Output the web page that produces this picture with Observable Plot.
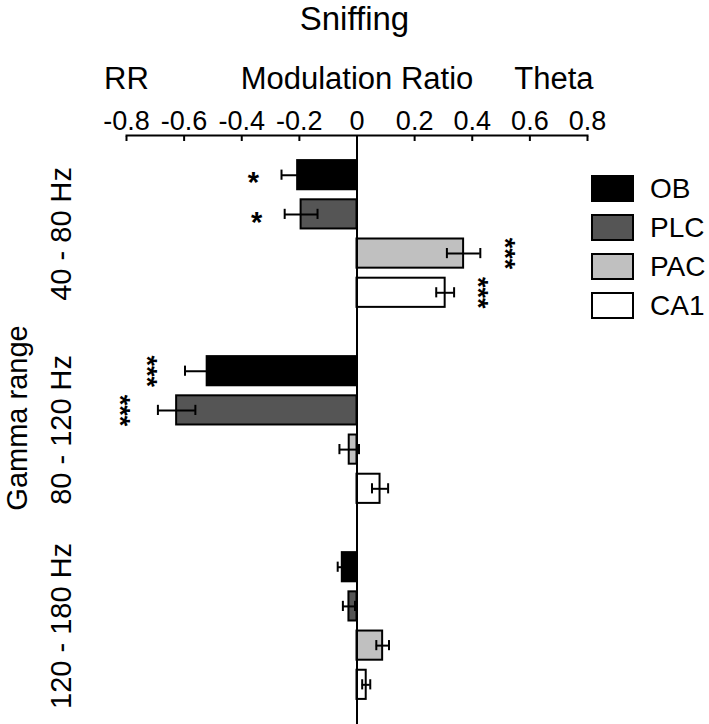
<!DOCTYPE html>
<html>
<head>
<meta charset="utf-8">
<script src="https://cdn.jsdelivr.net/npm/d3@7"></script>
<script src="https://cdn.jsdelivr.net/npm/@observablehq/plot@0.6"></script>
<style>
  body { margin: 0; background: #fff; font-family: "Liberation Sans", Arial, sans-serif; color: #000; }
  #wrap { position: relative; width: 709px; height: 724px; overflow: hidden; }
  #title { position: absolute; left: 0; top: 1px; width: 709px; text-align: center; font-size: 33px; line-height: 36px; }
  #chart { position: absolute; left: 0; top: 40px; }
  #legend { position: absolute; left: 591px; top: 175px; }
  .row { display: flex; align-items: center; height: 27px; margin-bottom: 12px; }
  .sw { box-sizing: border-box; width: 43px; height: 27px; border: 2px solid #000; margin-right: 16px; }
  .lab { font-size: 28px; line-height: 27px; }
</style>
</head>
<body>
<div id="wrap">
  <div id="title">Sniffing</div>
  <div id="chart"></div>
  <div id="legend"></div>
</div>
<script>
// ---- data ----
const groups = ["40 - 80 Hz", "80 - 120 Hz", "120 - 180 Hz"];
const regions = ["OB", "PLC", "PAC", "CA1"];
const regionColors = ["#000000", "#555555", "#c0c0c0", "#ffffff"];

const obValues  = [-0.206, -0.520, -0.051];
const plcValues = [-0.194, -0.626, -0.028];
const pacValues = [ 0.370, -0.027,  0.089];
const ca1Values = [ 0.306,  0.080,  0.032];

const obErrors  = [0.056, 0.077, 0.016];
const plcErrors = [0.057, 0.065, 0.021];
const pacErrors = [0.058, 0.034, 0.022];
const ca1Errors = [0.031, 0.028, 0.014];

const obStars  = ["*", "***", ""];
const plcStars = ["*", "***", ""];
const pacStars = ["***", "", ""];
const ca1Stars = ["***", "", ""];

const xTicks = [-0.8, -0.6, -0.4, -0.2, 0, 0.2, 0.4, 0.6, 0.8];
const headerLabels = ["RR", "Modulation Ratio", "Theta"];
const headerX = [-0.8, 0, 0.8];
const headerAnchors = ["middle", "middle", "end"];
const yTitle = "Gamma range";
const chartTitle = "Sniffing";

// ---- build table ----
const valueArrays = [obValues, plcValues, pacValues, ca1Values];
const errorArrays = [obErrors, plcErrors, pacErrors, ca1Errors];
const starArrays = [obStars, plcStars, pacStars, ca1Stars];

const rows = groups.flatMap((g, gi) => regions.map((r, ri) => {
  const v = valueArrays[ri][gi], e = errorArrays[ri][gi];
  return {group: g, region: r, key: g + "|" + r, value: v, err: e,
          lo: v - e, hi: v + e, outer: v < 0 ? v - e : v + e, side: v < 0 ? -1 : 1,
          stars: starArrays[ri][gi]};
}));

const yDomain = [];
groups.forEach((g, gi) => {
  regions.forEach(r => yDomain.push(g + "|" + r));
  if (gi < groups.length - 1) yDomain.push("gap" + gi);
});

document.getElementById("title").textContent = chartTitle;

const font = "Liberation Sans, Arial, sans-serif";
const starText = (data, side, rotated) => Plot.text(data, {
  y: "key", x: "outer", text: "stars",
  fontSize: rotated ? 27 : 29, fontWeight: "bold",
  rotate: rotated ? 90 : 0,
  dx: rotated ? side * 31 - 7 : side * 28,
  dy: rotated ? 0 : 8
});

const chart = Plot.plot({
  width: 709,
  height: 684,
  marginTop: 95,
  marginBottom: 0,
  marginLeft: 126,
  marginRight: 122,
  style: {fontFamily: font, background: "white", color: "black", overflow: "visible"},
  x: {domain: [-0.8, 0.8], axis: null},
  y: {type: "band", domain: yDomain, paddingInner: 0.256, paddingOuter: 0.64, round: false, axis: null},
  color: {domain: regions, range: regionColors},
  marks: [
    Plot.barX(rows, {y: "key", x: "value", fill: "region", stroke: "#000", strokeWidth: 2}),
    Plot.ruleX([0], {strokeWidth: 2}),
    Plot.ruleY(rows, {y: "key", x1: "lo", x2: "hi", strokeWidth: 2}),
    Plot.tickX(rows, {y: "key", x: "lo", strokeWidth: 2, insetTop: 9.5, insetBottom: 9.5}),
    Plot.tickX(rows, {y: "key", x: "hi", strokeWidth: 2, insetTop: 9.5, insetBottom: 9.5}),
    // significance stars
    starText(rows.filter(d => d.stars === "*" && d.side < 0), -1, false),
    starText(rows.filter(d => d.stars === "*" && d.side > 0), 1, false),
    starText(rows.filter(d => d.stars === "***" && d.side < 0), -1, true),
    starText(rows.filter(d => d.stars === "***" && d.side > 0), 1, true),
    // top axis
    Plot.frame({anchor: "top", strokeWidth: 2}),
    Plot.axisX(xTicks, {
      anchor: "top", tickSize: -5, tickPadding: 11, strokeWidth: 2,
      tickFormat: d => d === 0 ? "0" : d.toFixed(1), fontSize: 27, label: null
    }),
    ...headerLabels.map((t, i) => Plot.text([t], {
      x: () => headerX[i], text: d => d, frameAnchor: "top", lineAnchor: "bottom",
      textAnchor: headerAnchors[i], dy: -47, dx: headerAnchors[i] === "end" ? 6 : 0, fontSize: 31
    })),
    // group labels
    Plot.text(groups, {
      y: g => g + "|PLC", text: d => d, frameAnchor: "left", textAnchor: "middle", lineAnchor: "middle",
      rotate: -90, dx: -65, dy: 19.5, fontSize: 29
    }),
    Plot.text([yTitle], {
      text: d => d, frameAnchor: "left", textAnchor: "middle", lineAnchor: "middle",
      rotate: -90, dx: -109, dy: -12, fontSize: 29
    })
  ]
});
document.getElementById("chart").appendChild(chart);

// legend
const legend = document.getElementById("legend");
regions.forEach((r, i) => {
  const row = document.createElement("div");
  row.className = "row";
  const sw = document.createElement("div");
  sw.className = "sw";
  sw.style.background = regionColors[i];
  const lab = document.createElement("span");
  lab.className = "lab";
  lab.textContent = r;
  row.appendChild(sw);
  row.appendChild(lab);
  legend.appendChild(row);
});
</script>
</body>
</html>
